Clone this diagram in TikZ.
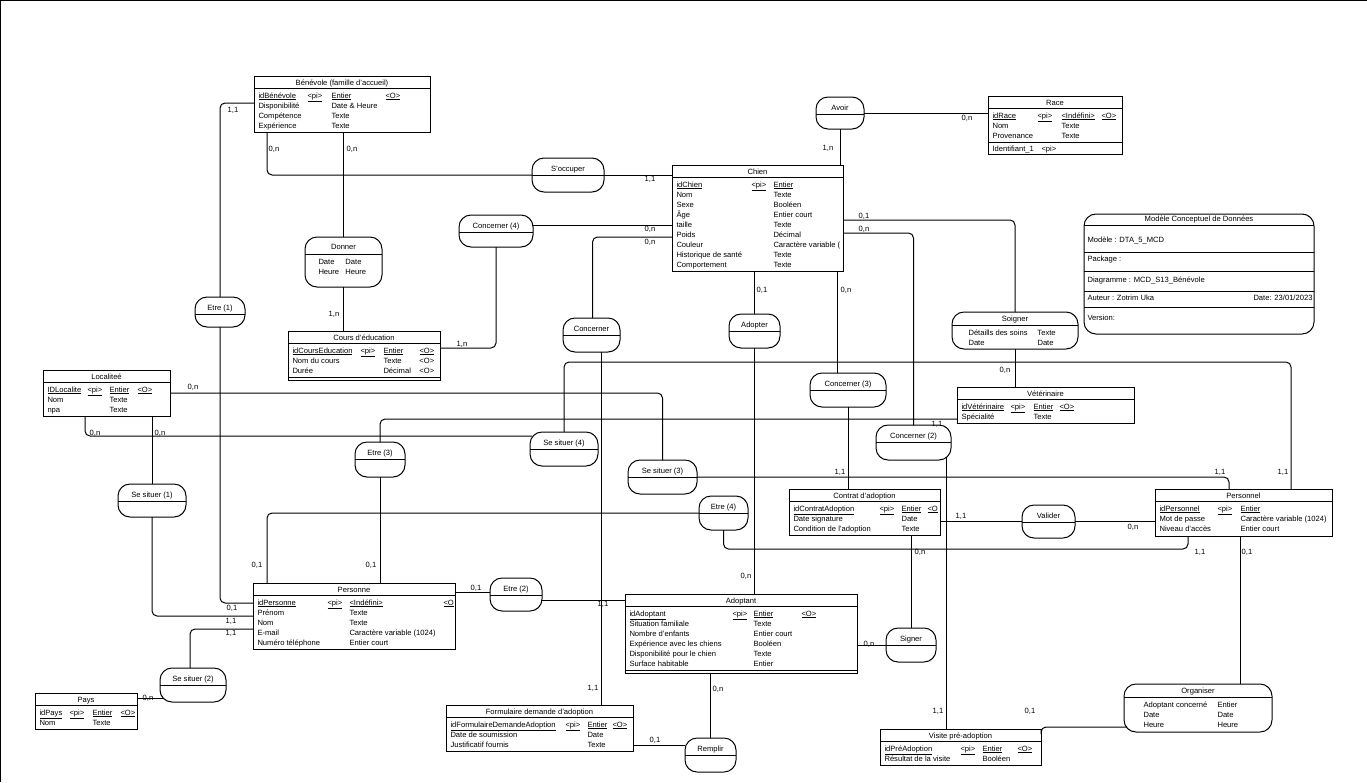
\documentclass[tikz,border=0pt]{standalone}
\usepackage{fontspec}
\setmainfont{Liberation Sans}
\usetikzlibrary{positioning, calc}
\newcommand{\mcd}{\fontsize{7.6}{10}\selectfont}
\tikzset{
  every picture/.style={line width=1pt},
  ent/.style={draw, anchor=north west, inner sep=0, outer sep=0},
  asso/.style={draw, anchor=north west, rounded corners=12pt, inner sep=0, outer sep=0},
  rows/.style={anchor=north west, inner sep=0},
  link/.style={draw, rounded corners=5pt},
  card/.style={inner sep=0},
  ttl/.style={anchor=base, inner sep=0},
}
% entite: name, x, y, width, height, title
\newcommand{\entite}[6]{%
  \node[ent, minimum width=#4, minimum height=#5] (#1) at (#2,-#3) {};
  \node[ttl] (#1-t) at ([yshift=-9.2]#1.north) {#6};
  \draw ([yshift=-12.5]#1.north west) -- ([yshift=-12.5]#1.north east);
}
% association: name, x, y, width, height, title
\newcommand{\assoc}[6]{%
  \node[asso, minimum width=#4, minimum height=#5] (#1) at (#2,-#3) {};
  \node[ttl] (#1-t) at ([yshift=-13.2]#1.north) {#6};
  \draw ([yshift=-17.5]#1.north west) -- ([yshift=-17.5]#1.north east);
}

\begin{document}
\begin{tikzpicture}[x=1pt, y=1pt, font=\mcd]
  \useasboundingbox (0,0) rectangle (1367,-782);
  \draw (0.5,-782) -- (0.5,-0.5) -- (1367,-0.5);

  % entites
  \entite{benevole}{254}{76}{176}{56}{Bénévole (famille d'accueil)}
  \node[rows] (benevole-r) at ([shift={(4,-14.5)}]benevole.north west) {\begin{tabular}{@{}p{49pt}@{}p{24pt}@{}p{54pt}@{}l@{}}
    \underline{idBénévole} & \underline{<pi>} & \underline{Entier} & \underline{<O>}\\
    Disponibilité & & Date \& Heure & \\
    Compétence & & Texte & \\
    Expérience & & Texte &
  \end{tabular}};

  \entite{race}{988}{96}{134}{58}{Race}
  \node[rows] (race-r) at ([shift={(4,-14.5)}]race.north west) {\begin{tabular}{@{}p{45pt}@{}p{24pt}@{}p{40pt}@{}l@{}}
    \underline{idRace} & \underline{<pi>} & \underline{<Indéfini>} & \underline{<O>}\\
    Nom & & Texte & \\
    Provenance & & Texte &
  \end{tabular}};
  \draw ([yshift=-46]race.north west) -- ([yshift=-46]race.north east);
  \node[rows] (race-id) at ([shift={(4,-47.5)}]race.north west) {\begin{tabular}{@{}p{49pt}@{}l@{}}Identifiant\_1 & <pi>\end{tabular}};

  \entite{chien}{672}{165}{171}{106}{Chien}
  \node[rows] (chien-r) at ([shift={(4,-14.5)}]chien.north west) {\begin{tabular}{@{}p{75pt}@{}p{22pt}@{}l@{}}
    \underline{idChien} & \underline{<pi>} & \underline{Entier}\\
    Nom & & Texte\\
    Sexe & & Booléen\\
    Âge & & Entier court\\
    taille & & Texte\\
    Poids & & Décimal\\
    Couleur & & Caractère variable (\\
    Historique de santé & & Texte\\
    Comportement & & Texte
  \end{tabular}};

  \entite{cours}{288}{331}{152}{49}{Cours d'éducation}
  \draw ([yshift=3]cours.south west) -- ([yshift=3]cours.south east);
  \node[rows] (cours-r) at ([shift={(4,-14.5)}]cours.north west) {\begin{tabular}{@{}p{68pt}@{}p{23pt}@{}p{36pt}@{}l@{}}
    \underline{idCoursEducation} & \underline{<pi>} & \underline{Entier} & \underline{<O>}\\
    Nom du cours & & Texte & <O>\\
    Durée & & Décimal & <O>
  \end{tabular}};

  \entite{localite}{43}{370}{127}{46}{Localiteé}
  \node[rows] (localite-r) at ([shift={(4,-14.5)}]localite.north west) {\begin{tabular}{@{}p{40pt}@{}p{22pt}@{}p{28pt}@{}l@{}}
    \underline{IDLocalite} & \underline{<pi>} & \underline{Entier} & \underline{<O>}\\
    Nom & & Texte & \\
    npa & & Texte &
  \end{tabular}};

  \entite{veterinaire}{957}{387}{177}{36}{Vétérinaire}
  \node[rows] (veterinaire-r) at ([shift={(4,-14.5)}]veterinaire.north west) {\begin{tabular}{@{}p{49pt}@{}p{23pt}@{}p{26pt}@{}l@{}}
    \underline{idVétérinaire} & \underline{<pi>} & \underline{Entier} & \underline{<O>}\\
    Spécialité & & Texte &
  \end{tabular}};

  \entite{contrat}{789}{489}{151}{46}{Contrat d'adoption}
  \node[rows] (contrat-r) at ([shift={(4,-14.5)}]contrat.north west) {\begin{tabular}{@{}p{86pt}@{}p{22pt}@{}p{26pt}@{}l@{}}
    \underline{idContratAdoption} & \underline{<pi>} & \underline{Entier} & \underline{<O}\\
    Date signature & & Date & \\
    Condition de l'adoption & & Texte &
  \end{tabular}};

  \entite{personnel}{1155}{489}{177}{47}{Personnel}
  \node[rows] (personnel-r) at ([shift={(4,-14.5)}]personnel.north west) {\begin{tabular}{@{}p{58pt}@{}p{23pt}@{}l@{}}
    \underline{idPersonnel} & \underline{<pi>} & \underline{Entier}\\
    Mot de passe & & Caractère variable (1024)\\
    Niveau d'accès & & Entier court
  \end{tabular}};

  \entite{personne}{253}{583}{202}{66}{Personne}
  \node[rows] (personne-r) at ([shift={(4,-14.5)}]personne.north west) {\begin{tabular}{@{}p{70pt}@{}p{22pt}@{}p{94pt}@{}l@{}}
    \underline{idPersonne} & \underline{<pi>} & \underline{<Indéfini>} & \underline{<O}\\
    Prénom & & Texte & \\
    Nom & & Texte & \\
    E-mail & & Caractère variable (1024) & \\
    Numéro téléphone & & Entier court &
  \end{tabular}};

  \entite{adoptant}{625}{594}{232}{79}{Adoptant}
  \draw ([yshift=3]adoptant.south west) -- ([yshift=3]adoptant.south east);
  \node[rows] (adoptant-r) at ([shift={(4,-14.5)}]adoptant.north west) {\begin{tabular}{@{}p{103pt}@{}p{21pt}@{}p{48pt}@{}l@{}}
    \underline{idAdoptant} & \underline{<pi>} & \underline{Entier} & \underline{<O>}\\
    Situation familiale & & Texte & \\
    Nombre d'enfants & & Entier court & \\
    Expérience avec les chiens & & Booléen & \\
    Disponibilité pour le chien & & Texte & \\
    Surface habitable & & Entier &
  \end{tabular}};

  \entite{pays}{35}{693}{102}{36}{Pays}
  \node[rows] (pays-r) at ([shift={(4,-14.5)}]pays.north west) {\begin{tabular}{@{}p{30pt}@{}p{23pt}@{}p{28pt}@{}l@{}}
    \underline{idPays} & \underline{<pi>} & \underline{Entier} & \underline{<O>}\\
    Nom & & Texte &
  \end{tabular}};

  \entite{formulaire}{446}{705}{187}{46}{Formulaire demande d'adoption}
  \node[rows] (formulaire-r) at ([shift={(4,-14.5)}]formulaire.north west) {\begin{tabular}{@{}p{115pt}@{}p{22pt}@{}p{25pt}@{}l@{}}
    \underline{idFormulaireDemandeAdoption} & \underline{<pi>} & \underline{Entier} & \underline{<O>}\\
    Date de soumission & & Date & \\
    Justificatif fournis & & Texte &
  \end{tabular}};

  \entite{visite}{880}{729}{161}{36}{Visite pré-adoption}
  \node[rows] (visite-r) at ([shift={(4,-14.5)}]visite.north west) {\begin{tabular}{@{}p{76pt}@{}p{22pt}@{}p{35pt}@{}l@{}}
    \underline{idPréAdoption} & \underline{<pi>} & \underline{Entier} & \underline{<O>}\\
    Résultat de la visite & & Booléen &
  \end{tabular}};

  % associations
  \assoc{avoir}{816}{97}{48}{32}{Avoir}
  \assoc{soccuper}{532}{158}{72}{34}{S'occuper}
  \assoc{concerner4}{459}{215}{74}{32}{Concerner (4)}
  \assoc{etre1}{195}{297}{50}{30}{Etre (1)}
  \assoc{concerner}{563}{318}{57}{34}{Concerner}
  \assoc{adopter}{729}{314}{51}{34}{Adopter}
  \assoc{concerner3}{810}{373}{76}{34}{Concerner (3)}
  \assoc{concerner2}{876}{425}{75}{35}{Concerner (2)}
  \assoc{situer4}{530}{432}{68}{34}{Se situer (4)}
  \assoc{etre3}{355}{442}{50}{35}{Etre (3)}
  \assoc{situer3}{628}{460}{69}{34}{Se situer (3)}
  \assoc{situer1}{118}{484}{68}{33}{Se situer (1)}
  \assoc{etre4}{699}{496}{49}{34}{Etre (4)}
  \assoc{valider}{1022}{505}{53}{33}{Valider}
  \assoc{etre2}{490}{578}{52}{33}{Etre (2)}
  \assoc{signer}{886}{628}{50}{34}{Signer}
  \assoc{situer2}{160}{668}{66}{34}{Se situer (2)}
  \assoc{remplir}{685}{738}{51}{34}{Remplir}

  \node[asso, minimum width=77, minimum height=50] (donner) at (305,-237) {};
  \node[ttl] (donner-t) at ([yshift=-12.7]donner.north) {Donner};
  \draw ([yshift=-17]donner.north west) -- ([yshift=-17]donner.north east);
  \node[rows] (donner-r) at ([shift={(13,-19.5)}]donner.north west) {\begin{tabular}{@{}p{27pt}@{}l@{}}Date & Date\\ Heure & Heure\end{tabular}};

  \node[asso, minimum width=126, minimum height=37] (soigner) at (952,-312) {};
  \node[ttl] (soigner-t) at ([yshift=-9.2]soigner.north) {Soigner};
  \draw ([yshift=-13]soigner.north west) -- ([yshift=-13]soigner.north east);
  \node[rows] (soigner-r) at ([shift={(16,-15.5)}]soigner.north west) {\begin{tabular}{@{}p{69pt}@{}l@{}}Détaills des soins & Texte\\ Date & Date\end{tabular}};

  \node[asso, minimum width=148, minimum height=48] (organiser) at (1124,-684) {};
  \node[ttl] (organiser-t) at ([yshift=-9.7]organiser.north) {Organiser};
  \draw ([yshift=-13]organiser.north west) -- ([yshift=-13]organiser.north east);
  \node[rows] (organiser-r) at ([shift={(19,-15.5)}]organiser.north west) {\begin{tabular}{@{}p{74pt}@{}l@{}}Adoptant concerné & Entier\\ Date & Date\\ Heure & Heure\end{tabular}};

  % cartouche
  \node[draw, rounded corners=12pt, anchor=north west, minimum width=230, minimum height=120, inner sep=0, outer sep=0] (cartouche) at (1084,-214) {};
  \node[ttl] (cart-t) at ([yshift=-7.7]cartouche.north) {Modèle Conceptuel de Données};
  \foreach \d in {11,38,57,77,93}
    \draw ([yshift=-\d]cartouche.north west) -- ([yshift=-\d]cartouche.north east);
  \node[anchor=base west, inner sep=0] (cart-m) at ([shift={(3,-28.7)}]cartouche.north west) {Modèle : DTA\_5\_MCD};
  \node[anchor=base west, inner sep=0] (cart-p) at ([shift={(3,-47.7)}]cartouche.north west) {Package :};
  \node[anchor=base west, inner sep=0] (cart-g) at ([shift={(3,-68.7)}]cartouche.north west) {Diagramme : MCD\_S13\_Bénévole};
  \node[anchor=base west, inner sep=0] (cart-a) at ([shift={(3,-86.7)}]cartouche.north west) {Auteur : Zotrim Uka};
  \node[anchor=base east, inner sep=0] (cart-d) at ([shift={(-1,-86.7)}]cartouche.north east) {Date: 23/01/2023};
  \node[anchor=base west, inner sep=0] (cart-v) at ([shift={(3,-106.7)}]cartouche.north west) {Version:};

  % liens
  \draw[link] (avoir.east) -- (race.west |- avoir.east);
  \draw[link] (avoir.south) -- (avoir.south |- chien.north);
  \draw[link] ([xshift=13]benevole.south west) |- (soccuper.west);
  \draw[link] (soccuper.east) -- (soccuper.east -| chien.west);
  \draw[link] (donner.north) -- (donner.north |- benevole.south);
  \draw[link] (donner.south) -- (donner.south |- cours.north);
  \draw[link] ([yshift=-27]benevole.north west) -| (etre1.north);
  \draw[link] (etre1.south) |- ([yshift=-20]personne.north west);
  \draw[link] ([yshift=-10]concerner4.north east) -- ([yshift=-10]chien.west |- concerner4.north east);
  \draw[link] (concerner4.south) |- ([yshift=-17]cours.north east);
  \draw[link] ([xshift=1]concerner.north) |- ([yshift=-72]chien.north west);
  \draw[link] ([xshift=10]concerner.south) -- ([xshift=10]concerner.south |- formulaire.north);
  \draw[link] (adopter.north) -- (adopter.north |- chien.south);
  \draw[link] (adopter.south) -- (adopter.south |- adoptant.north);
  \draw[link] ([xshift=-11]concerner3.north) -- ([xshift=-11]concerner3.north |- chien.south);
  \draw[link] (concerner3.south) -- (concerner3.south |- contrat.north);
  \draw[link] ([yshift=-55]chien.north east) -| (soigner.north);
  \draw[link] ([yshift=-68]chien.north east) -| (concerner2.north);
  \draw[link] (soigner.south) -- (soigner.south |- veterinaire.north);
  \draw[link] ([shift={(33,3)}]concerner2.south) -- ([xshift=33]concerner2.south |- visite.north);
  \draw[link] (etre3.north) |- ([yshift=-32]veterinaire.north west);
  \draw[link] (etre3.south) -- (etre3.south |- personne.north);
  \draw[link] (situer4.north) -- ++(0,70) -| ([xshift=136]personnel.north west);
  \draw[link] ([yshift=-23]localite.north east) -| (situer3.north);
  \draw[link] ([xshift=42]localite.south west) |- ([shift={(2,-4)}]situer4.north west);
  \draw[link] (situer1.north) -- (situer1.north |- localite.south);
  \draw[link] (situer1.south) |- ([yshift=-33]personne.north west);
  \draw[link] ([yshift=-46]personne.north west) -| ([xshift=-3]situer2.north);
  \draw[link] ([shift={(4,-30)}]situer2.north west) -- ([yshift=-30]situer2.north west -| pays.east);
  \draw[link] ([yshift=-9]personne.north east) -- ([yshift=-9]etre2.west |- personne.north east);
  \draw[link] ([yshift=-6]adoptant.north west) -- ([yshift=-6]etre2.east |- adoptant.north west);
  \draw[link] ([xshift=14]personne.north west) |- (etre4.west);
  \draw[link] (etre4.south) -- ++(0,-19) -| ([xshift=33]personnel.south west);
  \draw[link] ([yshift=-17]situer3.north east) -| ([xshift=74]personnel.north west);
  \draw[link] (valider.west) -- (valider.west -| contrat.east);
  \draw[link] (valider.east) -- (valider.east -| personnel.west);
  \draw[link] (signer.north) -- (signer.north |- contrat.south);
  \draw[link] (signer.west) -- (signer.west -| adoptant.east);
  \draw[link] ([xshift=85]personnel.south west) -- ([xshift=85]personnel.south west |- organiser.north);
  \draw[link] ([shift={(3,-43)}]organiser.north west) -| (visite.north east);
  \draw[link] (remplir.north) -- (remplir.north |- adoptant.south);
  \draw[link] ([yshift=-40]formulaire.north east) -- ([yshift=-40]remplir.west |- formulaire.north east);

  % cardinalites
  \foreach \x/\y [count=\i] in {233/110, 650/179, 937/424, 840/472, 1220/472, 1283/472, 961/516, 1200/552, 603/604, 231/621, 231/633, 593/688, 938/711}
    \node[card] (card11-\i) at (\x,-\y) {1,1};
  \foreach \x/\y [count=\i] in {274/149, 352/149, 967/118, 650/229, 864/229, 650/242, 846/290, 1005/370, 193/387, 95/433, 160/433, 1133/527, 920/552, 746/576, 869/644, 718/689, 148/698}
    \node[card] (card0n-\i) at (\x,-\y) {0,n};
  \foreach \x/\y [count=\i] in {864/216, 762/290, 257/565, 371/565, 1247/552, 476/588, 232/608, 1030/711, 655/740}
    \node[card] (card01-\i) at (\x,-\y) {0,1};
  \foreach \x/\y [count=\i] in {828/148, 334/314, 462/344}
    \node[card] (card1n-\i) at (\x,-\y) {1,n};
\end{tikzpicture}
\end{document}
